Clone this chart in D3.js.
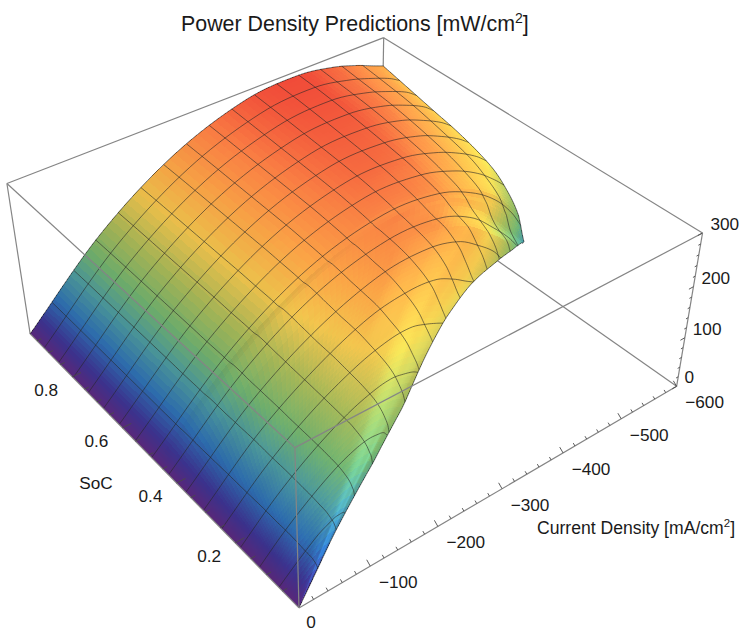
<!DOCTYPE html>
<html>
<head>
<meta charset="utf-8">
<script src="https://cdn.jsdelivr.net/npm/d3@7"></script>
<style>
body { margin: 0; background: white; }
text { font-family: "Liberation Sans", Arial, sans-serif; fill: #1a1a1a; }
</style>
</head>
<body>
<div id="chart"></div>
<script>
// values
const socRows = [0, .02, .05, .1, .15, .2, .25, .3, .35, .4, .455, .475, .5, .55, .6, .7, .8, .9, .98];
// largest current density reached at each SoC row
const jEnd = [0, 30, 76, 153, 221, 278, 335, 402, 472, 532, 583, 600, 600, 600, 600, 600, 600, 600, 600];
// fraction of jEnd along a row
const uNodes = [0, .2, .4, .6, .75, .85, .92, .97, 1];
const powerRows = [
  [0, 0, 0, 0, 0, 0, 0, 0, 0],
  [0, 6.6, 13, 19, 23, 25, 25.5, 26, 24],
  [0, 17, 34, 50, 58, 63, 64, 64, 62],
  [0, 37, 68, 95, 110, 116, 116, 115, 106],
  [0, 52, 96, 131, 148, 153, 151, 146, 138],
  [0, 66, 118, 157, 176, 181, 176, 171, 166],
  [0, 78, 138, 181, 200, 202, 193, 184, 178],
  [0, 93, 160, 207, 221, 218, 203, 188, 180],
  [0, 107, 181, 228, 236, 224, 200, 178, 160],
  [0, 119, 200, 242, 243, 221, 187, 158, 130],
  [0, 131, 216, 252, 242, 205, 158, 118, 92],
  [0, 132, 218, 254, 244, 208, 165, 120, 78],
  [0, 133, 220, 258, 250, 222, 188, 150, 122],
  [0, 133, 222, 263, 258, 235, 208, 180, 160],
  [0, 134, 224, 267, 265, 245, 222, 200, 182],
  [0, 135, 226, 272, 274, 259, 238, 219, 204],
  [0, 136, 228, 276, 282, 269, 251, 234, 218],
  [0, 137, 230, 280, 288, 275, 259, 245, 232],
  [0, 137, 231, 283, 291, 280, 265, 251, 243]
];
const currentTicks = [-100, -200, -300, -400, -500, -600];
const socTicks = [.2, .4, .6, .8];
const powerTicks = [0, 100, 200, 300];
const colorStops = [0, 20, 50, 85, 115, 150, 190, 225, 260, 300];
const colorValues = ['#5f2a80', '#3f3596', '#2f72b8', '#4f9ea0', '#72b470', '#a6b858', '#eec24c', '#f6a145', '#f47a42', '#e93c35'];

const width = 742;
const height = 632;
const socMax = .98;
const meshCount = 16;

const svg = d3.select('#chart').append('svg')
    .attr('width', width)
    .attr('height', height)
    .style('display', 'block');

const xScale = d3.scaleLinear().domain([0, -600]).range([0, 1]);
const yScale = d3.scaleLinear().domain([0, socMax]).range([0, 1]);
const zScale = d3.scaleLinear().domain([0, 300]).range([0, 1]);
const colorScale = d3.scaleLinear().domain(colorStops).range(colorValues).interpolate(d3.interpolateRgb);
const endScale = d3.scaleLinear().domain(socRows).range(jEnd);

// where the corners of the box sit on the page, used to fit the camera
const boxCorners = [
    [0, 0, 0, 299, 608], [1, 0, 0, 677, 386], [0, 1, 0, 30, 333], [1, 1, 0, 381, 180],
    [0, 0, 1, 295, 448], [1, 0, 1, 702, 233], [0, 1, 1, 7, 184], [1, 1, 1, 384, 37]
];

function solveCamera(corners) {
    const rows = [];
    corners.forEach(c => {
        const [X, Y, Z, u, v] = c;
        rows.push([X, Y, Z, 1, 0, 0, 0, 0, -u * X, -u * Y, -u * Z, u]);
        rows.push([0, 0, 0, 0, X, Y, Z, 1, -v * X, -v * Y, -v * Z, v]);
    });
    const n = 11;
    const m = d3.range(n).map(i => d3.range(n + 1).map(j =>
        d3.sum(rows, r => r[i] * r[j])));
    for (let i = 0; i < n; i++) {
        let best = i;
        for (let k = i + 1; k < n; k++) if (Math.abs(m[k][i]) > Math.abs(m[best][i])) best = k;
        [m[i], m[best]] = [m[best], m[i]];
        for (let k = 0; k < n; k++) {
            if (k === i) continue;
            const f = m[k][i] / m[i][i];
            for (let j = i; j <= n; j++) m[k][j] -= f * m[i][j];
        }
    }
    return m.map((r, i) => r[n] / r[i]);
}
const cam = solveCamera(boxCorners);

function depth(X, Y, Z) {
    return cam[8] * X + cam[9] * Y + cam[10] * Z + 1;
}
function projectBox(X, Y, Z) {
    const w = depth(X, Y, Z);
    return [(cam[0] * X + cam[1] * Y + cam[2] * Z + cam[3]) / w,
            (cam[4] * X + cam[5] * Y + cam[6] * Z + cam[7]) / w];
}
function project(j, s, p) {
    return projectBox(xScale(j), yScale(s), zScale(p));
}

// smooth curve through unevenly spaced rows
function hermite(xs, ys, x) {
    let i = d3.bisectRight(xs, x) - 1;
    i = Math.max(0, Math.min(xs.length - 2, i));
    const h = xs[i + 1] - xs[i];
    const t = (x - xs[i]) / h;
    const slope = k => {
        if (k <= 0) return (ys[1] - ys[0]) / (xs[1] - xs[0]);
        if (k >= xs.length - 1) return (ys[k] - ys[k - 1]) / (xs[k] - xs[k - 1]);
        return (ys[k + 1] - ys[k - 1]) / (xs[k + 1] - xs[k - 1]);
    };
    const t2 = t * t, t3 = t2 * t;
    return (2 * t3 - 3 * t2 + 1) * ys[i] + (t3 - 2 * t2 + t) * h * slope(i)
        + (-2 * t3 + 3 * t2) * ys[i + 1] + (t3 - t2) * h * slope(i + 1);
}
function powerAt(u, s) {
    const col = uNodes.map((_, k) => hermite(socRows, powerRows.map(r => r[k]), s));
    return hermite(uNodes, col, u);
}

// sample the surface finely for drawing, closer together at both ends of a row
const socSteps = d3.range(0, 121).map(i => socMax * i / 120);
const uSteps = d3.range(0, 101).map(i => .5 - .5 * Math.cos(Math.PI * i / 100));
const vertices = socSteps.map(s => {
    const col = uNodes.map((_, k) => hermite(socRows, powerRows.map(r => r[k]), s));
    const end = endScale(s);
    return uSteps.map(u => {
        const p = hermite(uNodes, col, u);
        return { j: -u * end, s, p, X: xScale(-u * end), Y: yScale(s), Z: zScale(p) };
    });
});

function normalize(v) {
    const l = Math.hypot(v[0], v[1], v[2]) || 1;
    return v.map(d => d / l);
}
const lightDir = normalize([0, -.62, .78]);
const sideLight = normalize([.6, -.2, .78]);
function shade(a, b, c, d, p) {
    // box is flatter than it is wide, so the height counts for less
    const zr = .45;
    const e1 = [c.X - a.X, c.Y - a.Y, (c.Z - a.Z) * zr];
    const e2 = [d.X - b.X, d.Y - b.Y, (d.Z - b.Z) * zr];
    let n = normalize([e1[1] * e2[2] - e1[2] * e2[1], e1[2] * e2[0] - e1[0] * e2[2], e1[0] * e2[1] - e1[1] * e2[0]]);
    if (n[2] < 0) n = n.map(v => -v);
    const dot = Math.max(0, n[0] * lightDir[0] + n[1] * lightDir[1] + n[2] * lightDir[2]);
    const dot2 = Math.max(0, n[0] * sideLight[0] + n[1] * sideLight[1] + n[2] * sideLight[2]);
    const sp = Math.max(Math.pow(Math.max(0, dot - .84) / .16, 1.3) * .85,
                        Math.pow(Math.max(0, dot2 - .84) / .16, 1.3) * .95);
    const base = d3.rgb(colorScale(p));
    const k = Math.min(1.02, .72 + .4 * Math.max(dot, dot2));
    const r = base.r * k, g = base.g * k, bl = base.b * k;
    return d3.rgb(Math.min(255, r + 10 * sp),
                  Math.min(255, g + 42 * sp),
                  Math.min(255, bl + sp * (75 * (1 - r / 255) + 10))).formatHex();
}

const quads = [];
for (let i = 0; i < socSteps.length - 1; i++) {
    for (let k = 0; k < uSteps.length - 1; k++) {
        const a = vertices[i][k], b = vertices[i][k + 1], c = vertices[i + 1][k + 1], d = vertices[i + 1][k];
        const p = (a.p + b.p + c.p + d.p) / 4;
        quads.push({
            pts: [a, b, c, d].map(v => project(v.j, v.s, v.p)),
            fill: shade(a, b, c, d, p),
            w: depth((a.X + c.X) / 2, (a.Y + c.Y) / 2, (a.Z + c.Z) / 2)
        });
    }
}
quads.sort((a, b) => b.w - a.w);

// box edges behind the surface
const boxColor = '#858585';
function boxLine(from, to, sel) {
    const a = projectBox(...from), b = projectBox(...to);
    sel.append('line')
        .attr('x1', a[0]).attr('y1', a[1])
        .attr('x2', b[0]).attr('y2', b[1])
        .attr('stroke', boxColor)
        .attr('stroke-width', 1.2);
}
const back = svg.append('g');
[[[0, 1, 0], [0, 1, 1]], [[0, 1, 1], [1, 1, 1]], [[1, 1, 1], [1, 0, 1]], [[1, 1, 1], [1, 1, 0]],
 [[1, 1, 0], [1, 0, 0]], [[1, 1, 0], [0, 1, 0]], [[1, 0, 0], [1, 0, 1]]].forEach(e => boxLine(e[0], e[1], back));

// surface, crisp so the small cells leave no seams
svg.append('g')
    .attr('shape-rendering', 'crispEdges')
    .selectAll('path')
    .data(quads)
    .enter()
    .append('path')
    .attr('d', d => 'M' + d.pts.map(p => p[0].toFixed(2) + ',' + p[1].toFixed(2)).join('L') + 'Z')
    .attr('fill', d => d.fill);

// mesh lines
const line = d3.line();
const mesh = svg.append('g')
    .attr('fill', 'none')
    .attr('stroke', '#262626')
    .attr('stroke-opacity', .62)
    .attr('stroke-width', .95);

d3.range(1, meshCount).forEach(k => {
    const s = socMax * k / meshCount;
    const end = endScale(s);
    const pts = d3.range(0, 81).map(i => {
        const u = .5 - .5 * Math.cos(Math.PI * i / 80);
        return project(-u * end, s, powerAt(u, s));
    });
    mesh.append('path').attr('d', line(pts));
});

d3.range(1, meshCount).forEach(k => {
    const j = 600 * k / meshCount;
    // first SoC where this current density is on the surface
    const sStart = d3.scaleLinear().domain(jEnd.slice(0, 12)).range(socRows.slice(0, 12))(j);
    const pts = d3.range(0, 101).map(i => {
        const s = sStart + (socMax - sStart) * Math.pow(i / 100, 1.8);
        return project(-j, s, powerAt(Math.min(1, j / endScale(s)), s));
    });
    mesh.append('path').attr('d', line(pts));
});

// outline of the surface
const outline = svg.append('g')
    .attr('fill', 'none')
    .attr('stroke', '#1f1f1f')
    .attr('stroke-opacity', .7)
    .attr('stroke-width', .9);
outline.append('path').attr('d', line(socSteps.map(s => {
    const end = endScale(s);
    return project(-end, s, powerAt(1, s));
})));
outline.append('path').attr('d', line(uSteps.map(u => project(-600 * u, socMax, powerAt(u, socMax)))));

// box edges in front of the surface
const front = svg.append('g');
[[[0, 0, 0], [0, 0, 1]], [[0, 0, 1], [1, 0, 1]], [[0, 0, 1], [0, 1, 1]], [[0, 0, 0], [1, 0, 0]], [[0, 0, 0], [0, 1, 0]]]
    .forEach(e => boxLine(e[0], e[1], front));

// ticks
const tickGroup = svg.append('g')
    .attr('stroke', '#4a4a4a')
    .attr('stroke-width', .9);
function tick(a, b) {
    const p = project(...a), q = project(...b);
    tickGroup.append('line')
        .attr('x1', p[0]).attr('y1', p[1])
        .attr('x2', q[0]).attr('y2', q[1]);
}
d3.range(20, 601, 20).forEach(v => {
    const f = v % 100 === 0 ? 1 : .5;
    tick([-v, 0, 0], [-v, .0105 * f, 6 * f]);
});
d3.range(.05, .96, .05).forEach(v => {
    const f = Math.abs(v * 5 - Math.round(v * 5)) < .01 ? 1 : .5;
    tick([0, v, 0], [-13 * f, v, 0]);
});
d3.range(0, 301, 20).forEach(v => {
    const f = v % 100 === 0 ? 1 : .5;
    tick([-600, 0, v], [-600 + 8 * f, 0, v]);
});

// labels
const labels = svg.append('g').attr('font-size', 17.2);
labels.selectAll('.j-label')
    .data(currentTicks)
    .enter()
    .append('text')
    .attr('class', 'j-label')
    .attr('text-anchor', 'middle')
    .attr('x', d => project(d, 0, 0)[0] + 28)
    .attr('y', d => project(d, 0, 0)[1] + 22)
    .text(d => '\u2212' + Math.abs(d));
labels.selectAll('.s-label')
    .data(socTicks)
    .enter()
    .append('text')
    .attr('class', 's-label')
    .attr('text-anchor', 'middle')
    .attr('x', d => project(0, d, 0)[0] - 26)
    .attr('y', d => project(0, d, 0)[1] + 19)
    .text(d => d.toFixed(1));
labels.selectAll('.z-label')
    .data(powerTicks)
    .enter()
    .append('text')
    .attr('class', 'z-label')
    .attr('x', d => project(-600, 0, d)[0] + 8)
    .attr('y', d => project(-600, 0, d)[1] - 3)
    .text(d => d);
labels.append('text').attr('x', 311).attr('y', 628).attr('text-anchor', 'middle').text('0');
labels.append('text').attr('x', 96).attr('y', 489).attr('text-anchor', 'middle').text('SoC');

const currentTitle = labels.append('text').attr('x', 537).attr('y', 534).attr('font-size', 17.6);
currentTitle.append('tspan').text('Current Density [mA/cm');
currentTitle.append('tspan').attr('dy', -7).attr('font-size', 11.5).text('2');
currentTitle.append('tspan').attr('dy', 7).text(']');

const title = svg.append('text').attr('x', 181).attr('y', 31).attr('font-size', 21.4);
title.append('tspan').text('Power Density Predictions [mW/cm');
title.append('tspan').attr('dy', -8).attr('font-size', 14).text('2');
title.append('tspan').attr('dy', 8).text(']');
</script>
</body>
</html>
